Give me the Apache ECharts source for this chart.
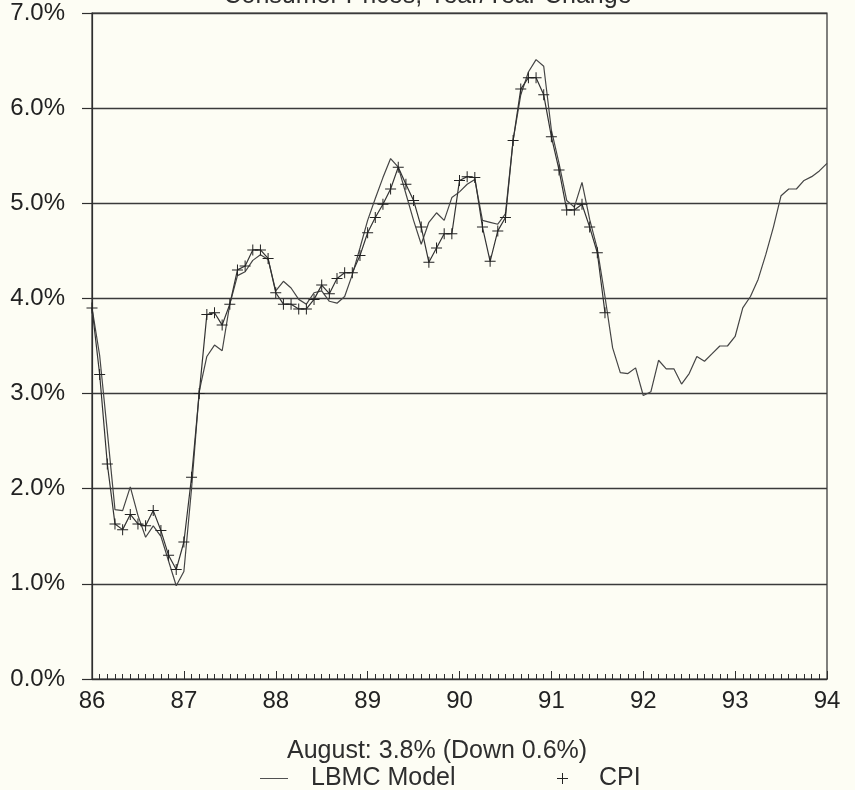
<!DOCTYPE html>
<html>
<head>
<meta charset="utf-8">
<script src="https://cdn.jsdelivr.net/npm/echarts@6/dist/echarts.min.js"></script>
<style>
  html, body { margin: 0; padding: 0; background: #fdfdf4; }
  #chart { width: 855px; height: 790px; }
</style>
</head>
<body>
<div id="chart"></div>
<script>
// ---- data ----
const startYear = 86;            // first month = January 1986
const xTickLabels = ['86', '87', '88', '89', '90', '91', '92', '93', '94'];
const yTickLabels = ['0.0%', '1.0%', '2.0%', '3.0%', '4.0%', '5.0%', '6.0%', '7.0%'];

// LBMC Model, monthly, Jan 86 .. Jan 94 (%)
const modelValues = [
  3.90, 3.40, 2.60, 1.78, 1.77, 2.02, 1.72, 1.49, 1.61, 1.50, 1.24, 0.98,
  1.13, 2.00, 3.02, 3.39, 3.51, 3.45, 3.94, 4.24, 4.28, 4.40, 4.46, 4.41,
  4.08, 4.18, 4.11, 3.99, 3.94, 4.06, 4.08, 3.97, 3.95, 4.02, 4.25, 4.53,
  4.82, 5.05, 5.27, 5.47, 5.38, 5.10, 4.82, 4.57, 4.80, 4.90, 4.82, 5.06,
  5.12, 5.20, 5.25, 4.82, 4.80, 4.78, 4.89, 5.66, 6.14, 6.38, 6.51, 6.44,
  5.77, 5.42, 5.03, 4.96, 5.22, 4.83, 4.52, 4.02, 3.48, 3.22, 3.21, 3.27,
  2.98, 3.02, 3.35, 3.26, 3.26, 3.10, 3.21, 3.39, 3.34, 3.42, 3.50, 3.50,
  3.60, 3.90, 4.02, 4.20, 4.46, 4.75, 5.08, 5.15, 5.15, 5.24, 5.28, 5.34,
  5.42
];

// CPI year/year, monthly, Jan 86 .. Aug 91 (%)
const cpiValues = [
  3.90, 3.20, 2.26, 1.63, 1.57, 1.73, 1.63, 1.61, 1.77, 1.56, 1.30, 1.15,
  1.44, 2.12, 3.00, 3.83, 3.85, 3.72, 3.94, 4.30, 4.34, 4.51, 4.51, 4.42,
  4.06, 3.94, 3.94, 3.89, 3.89, 3.99, 4.14, 4.05, 4.21, 4.27, 4.27, 4.45,
  4.69, 4.85, 4.99, 5.15, 5.38, 5.20, 5.03, 4.75, 4.38, 4.53, 4.68, 4.68,
  5.24, 5.28, 5.27, 4.75, 4.39, 4.71, 4.85, 5.66, 6.20, 6.32, 6.32, 6.14,
  5.70, 5.35, 4.93, 4.93, 4.99, 4.75, 4.48, 3.85
];

const titleText = 'Consumer Prices, Year/Year Change';
const noteText = 'August: 3.8% (Down 0.6%)';

// ---- chart ----
const toPoints = arr => arr.map((v, i) => [startYear + i / 12, v]);
const plusPath = 'path://M5,0h1v11h-1z M0,5h11v1h-11z';
const ink = '#2e2e2e';
const fontFamily = '"Liberation Sans", Arial, Helvetica, sans-serif';

const chart = echarts.init(document.getElementById('chart'), null, { renderer: 'canvas' });
chart.setOption({
  backgroundColor: '#fdfdf4',
  animation: false,
  textStyle: { fontFamily: fontFamily },
  title: [
    { text: titleText, left: 'center', top: -21,
      textStyle: { fontSize: 25, fontWeight: 'normal', color: ink, fontFamily: fontFamily } },
    { text: noteText, left: 282, top: 734,
      textStyle: { fontSize: 25, fontWeight: 'normal', color: ink, fontFamily: fontFamily } }
  ],
  legend: [
    { data: [{ name: 'LBMC Model', icon: 'path://M0,0h30v1h-30z' }],
      left: 255, top: 761, itemWidth: 28, itemHeight: 2,
      textStyle: { fontSize: 25, color: ink, padding: [0, 0, 0, 18], fontFamily: fontFamily } },
    { data: [{ name: 'CPI', icon: plusPath }],
      left: 552, top: 761, itemWidth: 11, itemHeight: 11,
      textStyle: { fontSize: 25, color: ink, padding: [0, 0, 0, 26], fontFamily: fontFamily } }
  ],
  grid: {
    left: 92, right: 28, top: 13, bottom: 111,
    show: true, borderColor: ink, borderWidth: 1.2, backgroundColor: 'transparent'
  },
  xAxis: {
    type: 'value', min: 86, max: 94, interval: 1,
    axisLine: { show: true, lineStyle: { color: ink, width: 1.2 } },
    axisTick: { show: true, inside: true, length: 8, lineStyle: { color: ink, width: 1 } },
    minorTick: { show: true, splitNumber: 12, length: 5, lineStyle: { color: ink, width: 1 } },
    splitLine: { show: false },
    axisLabel: {
      fontSize: 24, color: '#222', margin: 10,
      formatter: v => xTickLabels[Math.round(v - startYear)]
    }
  },
  yAxis: {
    type: 'value', min: 0, max: 7, interval: 1,
    axisLine: { show: true, lineStyle: { color: ink, width: 1.2 } },
    axisTick: { show: true, inside: false, length: 10, lineStyle: { color: ink, width: 1.2 } },
    splitLine: { show: true, lineStyle: { color: '#3a3a3a', width: 1.4 } },
    axisLabel: {
      fontSize: 24, color: '#222', margin: 27,
      formatter: v => yTickLabels[Math.round(v)]
    }
  },
  series: [
    {
      name: 'LBMC Model', type: 'line', data: toPoints(modelValues),
      symbol: 'none', lineStyle: { color: '#454545', width: 1.2 },
      itemStyle: { color: '#454545' }
    },
    {
      name: 'CPI', type: 'line', data: toPoints(cpiValues),
      symbol: plusPath, symbolSize: 11, showSymbol: true,
      lineStyle: { color: '#333', width: 1.2 },
      itemStyle: { color: '#222' }
    }
  ]
});
</script>
</body>
</html>
